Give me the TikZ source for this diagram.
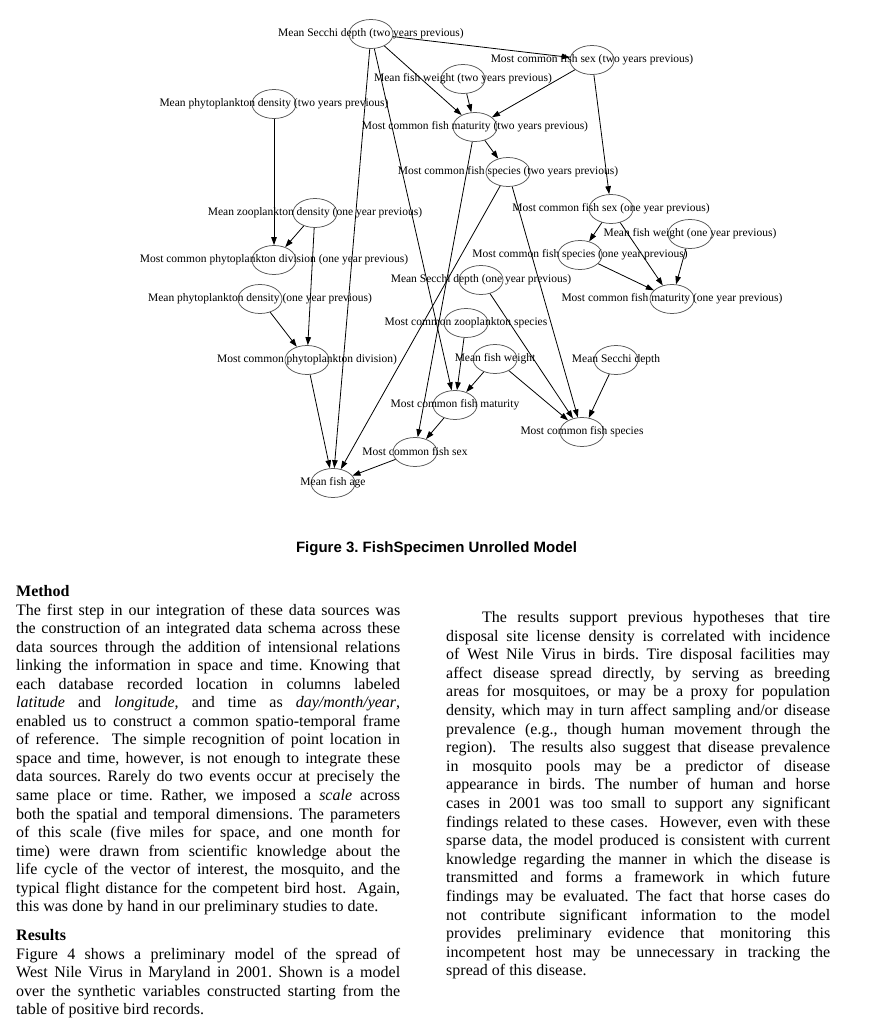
\documentclass[tikz,border=0pt]{standalone}
\usepackage{fontspec}
\setmainfont{Liberation Serif}
\newfontfamily\capfont{Liberation Sans}
\usetikzlibrary{shapes.geometric,arrows.meta}
\newcommand\jl[1]{\makebox[384pt][s]{#1}\par}
\newcommand\jli[1]{\hspace*{36pt}\makebox[348pt][s]{#1}\par}
\newcommand\lbl[1]{\makebox[0pt]{#1}}
\begin{document}
\frenchspacing
\begin{tikzpicture}[x=1pt,y=-1pt,
  el/.style={draw=black!65, line width=0.75pt, ellipse, minimum width=44pt, minimum height=29pt, inner sep=0pt, font=\fontsize{11.5}{13}\selectfont},
  edge/.style={draw=black, line width=0.8pt, -{Triangle[length=8pt,width=5.5pt]}},
  body/.style={anchor=base west, inner sep=0pt, font=\fontsize{16}{18.5}\selectfont}]
\useasboundingbox (0,0) rectangle (871,1024);
\fill[white] (0,0) rectangle (871,1024);

% graph nodes
\node[el] (s2)  at (371,34)  {\lbl{Mean Secchi depth (two years previous)}};
\node[el] (x2)  at (592,60)  {\lbl{Most common fish sex (two years previous)}};
\node[el] (w2)  at (463,79)  {\lbl{Mean fish weight (two years previous)}};
\node[el] (p2)  at (274,104) {\lbl{Mean phytoplankton density (two years previous)}};
\node[el] (m2)  at (475,127) {\lbl{Most common fish maturity (two years previous)}};
\node[el] (sp2) at (508,172) {\lbl{Most common fish species (two years previous)}};
\node[el] (x1)  at (611,209) {\lbl{Most common fish sex (one year previous)}};
\node[el] (z1)  at (315,213) {\lbl{Mean zooplankton density (one year previous)}};
\node[el] (w1)  at (690,234) {\lbl{Mean fish weight (one year previous)}};
\node[el] (pd1) at (274,260) {\lbl{Most common phytoplankton division (one year previous)}};
\node[el] (sp1) at (580,255) {\lbl{Most common fish species (one year previous)}};
\node[el] (s1)  at (481,280) {\lbl{Mean Secchi depth (one year previous)}};
\node[el] (m1)  at (672,299) {\lbl{Most common fish maturity (one year previous)}};
\node[el] (p1)  at (260,299) {\lbl{Mean phytoplankton density (one year previous)}};
\node[el] (z0)  at (466,323) {\lbl{Most common zooplankton species}};
\node[el] (pd0) at (307,360) {\lbl{Most common phytoplankton division)}};
\node[el] (w0)  at (495,359) {\lbl{Mean fish weight}};
\node[el] (s0)  at (616,360) {\lbl{Mean Secchi depth}};
\node[el] (m0)  at (455,405) {\lbl{Most common fish maturity}};
\node[el] (sp0) at (582,432) {\lbl{Most common fish species}};
\node[el] (x0)  at (415,452) {\lbl{Most common fish sex}};
\node[el] (age) at (333,483) {\lbl{Mean fish age}};

% edges
\draw[edge] (s2) -- (x2);
\draw[edge] (s2) -- (m2);
\draw[edge] (s2) -- (age);
\draw[edge] (s2) -- (m0);
\draw[edge] (w2) -- (m2);
\draw[edge] (x2) -- (m2);
\draw[edge] (x2) -- (x1);
\draw[edge] (m2) -- (sp2);
\draw[edge] (m2) -- (x0);
\draw[edge] (sp2) -- (age);
\draw[edge] (sp2) -- (sp0);
\draw[edge] (p2) -- (pd1);
\draw[edge] (z1) -- (pd1);
\draw[edge] (z1) -- (pd0);
\draw[edge] (p1) -- (pd0);
\draw[edge] (pd0) -- (age);
\draw[edge] (x1) -- (sp1);
\draw[edge] (x1) -- (m1);
\draw[edge] (w1) -- (m1);
\draw[edge] (sp1) -- (m1);
\draw[edge] (s1) -- (sp0);
\draw[edge] (z0) -- (m0);
\draw[edge] (w0) -- (m0);
\draw[edge] (w0) -- (sp0);
\draw[edge] (s0) -- (sp0);
\draw[edge] (m0) -- (x0);
\draw[edge] (x0) -- (age);

% caption
\node[anchor=base, inner sep=0pt, font=\capfont\bfseries\fontsize{15}{18}\selectfont] (cap) at (436.5,552) {Figure 3. FishSpecimen Unrolled Model};

% left column
\node[body] (mhead) at (16,596.7) {\bfseries Method};
\node[body] (mpara) at (16,615) {\parbox[t]{384pt}{\fontsize{16}{18.55}\selectfont
\jl{The first step in our integration of these data sources was}
\jl{the construction of an integrated data schema across these}
\jl{data sources through the addition of intensional relations}
\jl{linking the information in space and time. Knowing that}
\jl{each database recorded location in columns labeled}
\jl{\textit{latitude} and \textit{longitude}, and time as \textit{day/month/year},}
\jl{enabled us to construct a common spatio-temporal frame}
\jl{of reference.\ \ The simple recognition of point location in}
\jl{space and time, however, is not enough to integrate these}
\jl{data sources. Rarely do two events occur at precisely the}
\jl{same place or time. Rather, we imposed a \textit{scale} across}
\jl{both the spatial and temporal dimensions. The parameters}
\jl{of this scale (five miles for space, and one month for}
\jl{time) were drawn from scientific knowledge about the}
\jl{life cycle of the vector of interest, the mosquito, and the}
\jl{typical flight distance for the competent bird host.\ \ Again,}
this was done by hand in our preliminary studies to date.\par}};
\node[body] (rhead) at (16,940.7) {\bfseries Results};
\node[body] (rpara) at (16,959.3) {\parbox[t]{384pt}{\fontsize{16}{18.35}\selectfont
\jl{Figure 4 shows a preliminary model of the spread of}
\jl{West Nile Virus in Maryland in 2001. Shown is a model}
\jl{over the synthetic variables constructed starting from the}
table of positive bird records.\par}};

% right column
\node[body] (cpara) at (446,622.5) {\parbox[t]{384pt}{\fontsize{16}{18.6}\selectfont
\jli{The results support previous hypotheses that tire}
\jl{disposal site license density is correlated with incidence}
\jl{of West Nile Virus in birds. Tire disposal facilities may}
\jl{affect disease spread directly, by serving as breeding}
\jl{areas for mosquitoes, or may be a proxy for population}
\jl{density, which may in turn affect sampling and/or disease}
\jl{prevalence (e.g., though human movement through the}
\jl{region).\ \ The results also suggest that disease prevalence}
\jl{in mosquito pools may be a predictor of disease}
\jl{appearance in birds. The number of human and horse}
\jl{cases in 2001 was too small to support any significant}
\jl{findings related to these cases.\ \ However, even with these}
\jl{sparse data, the model produced is consistent with current}
\jl{knowledge regarding the manner in which the disease is}
\jl{transmitted and forms a framework in which future}
\jl{findings may be evaluated. The fact that horse cases do}
\jl{not contribute significant information to the model}
\jl{provides preliminary evidence that monitoring this}
\jl{incompetent host may be unnecessary in tracking the}
spread of this disease.\par}};
\end{tikzpicture}
\end{document}
